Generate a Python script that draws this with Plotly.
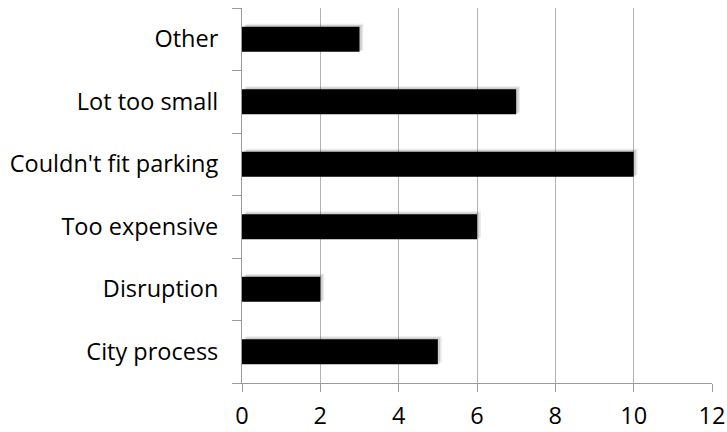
import plotly.graph_objects as go

categories = ["City process", "Disruption", "Too expensive", "Couldn't fit parking", "Lot too small", "Other"]
values = [5, 2, 6, 10, 7, 3]
x_ticks = [0, 2, 4, 6, 8, 10, 12]

font_family = "Open Sans, Noto Sans, sans-serif"

fig = go.Figure()
# soft drop shadow
for dx, off, a in [(0.10, -0.17, 0.08), (0.06, -0.19, 0.12)]:
    fig.add_trace(go.Bar(
        y=categories, x=values, orientation="h",
        base=dx, width=0.42, offset=off,
        marker=dict(color=f"rgba(0,0,0,{a})", line=dict(width=0)),
        hoverinfo="skip", showlegend=False,
    ))
fig.add_trace(go.Bar(
    y=categories, x=values, orientation="h",
    width=0.4, offset=-0.2,
    marker=dict(color="black", line=dict(width=0)),
    showlegend=False,
))

fig.update_layout(
    width=727, height=432,
    margin=dict(l=242, r=15, t=8, b=49, autoexpand=False),
    plot_bgcolor="white", paper_bgcolor="white",
    barmode="overlay",
    font=dict(family=font_family, size=23.5, color="black"),
)
fig.update_xaxes(
    range=[0, 12], tickvals=x_ticks, showgrid=True, gridcolor="#b3b3b3", gridwidth=1,
    showline=True, linecolor="#9a9a9a", linewidth=1, ticks="outside", ticklen=8,
    tickcolor="#9a9a9a", zeroline=False, automargin=False, ticklabelstandoff=4,
)
fig.update_yaxes(
    categoryorder="array", categoryarray=categories,
    showline=True, linecolor="#9a9a9a", linewidth=1, ticks="outside", ticklen=9,
    tickcolor="#9a9a9a", tickson="boundaries", showgrid=False, zeroline=False,
    ticklabelstandoff=18, automargin=False,
)
fig.write_html(
    "out.html",
    config={"displayModeBar": False},
    post_script="document.body.style.margin='0';document.body.style.overflow='hidden';",
)
